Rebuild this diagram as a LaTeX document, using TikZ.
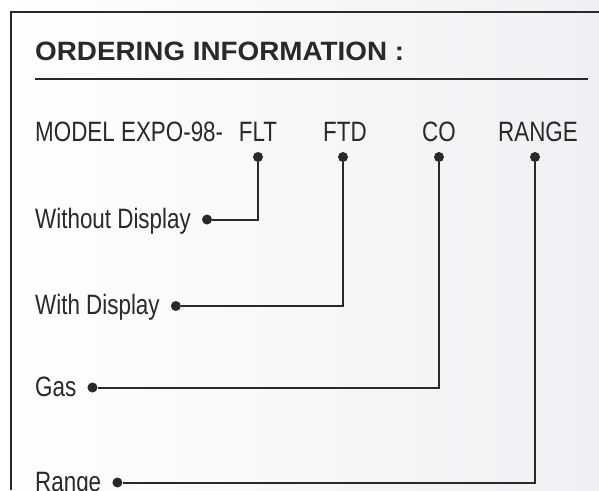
\documentclass[tikz,border=0pt]{standalone}
\usepackage{fontspec}
\setmainfont{Liberation Sans}
\newfontfamily\headfont{Liberation Sans}[FakeStretch=1.05]
\newfontfamily\itemfont{Liberation Sans}[FakeStretch=0.8]
\usetikzlibrary{positioning}
\definecolor{ink}{RGB}{43,40,38}
\definecolor{paper}{RGB}{240,240,244}

\begin{document}
\begin{tikzpicture}[x=1pt,y=-1pt,
  heading/.style={
    font=\headfont\bfseries\fontsize{26.5}{30}\selectfont,
    text=ink,
    inner sep=0pt,
    anchor=base west
  },
  opttext/.style={
    font=\itemfont\fontsize{28}{32}\selectfont,
    text=ink,
    inner sep=0pt,
    anchor=base west
  },
  codetext/.style={opttext, anchor=base},
  bullet/.style={circle, fill=ink, inner sep=0pt, minimum size=10pt},
  wire/.style={draw=ink, line width=2pt}]
  % background and frame
  \useasboundingbox (0,0) rectangle (599,490);
  \shade[left color=white, right color=paper] (0,0) rectangle (599,490);
  \draw[ink, line width=2pt] (11,490) -- (11,11.5) -- (599,11.5);
  % heading
  \node[heading] (title) at (35,60) {ORDERING INFORMATION :};
  \draw[ink, line width=1.3pt] (35,79) -- (588,79);
  % model code row
  \node[opttext] (model) at (35,141.5) {MODEL EXPO-98-};
  \node[codetext] (flt) at (258,141.5) {FLT};
  \node[codetext] (ftd) at (345,141.5) {FTD};
  \node[codetext] (co) at (439,141.5) {CO};
  \node[codetext] (range) at (538,141.5) {RANGE};
  \foreach \c/\x in {flt/258, ftd/343, co/439, range/535}
    \node[bullet] (\c-dot) at (\x,157) {};
  % options
  \node[opttext] (nodisp) at (35,228) {Without Display};
  \node[opttext] (disp) at (35,314.5) {With Display};
  \node[opttext] (gas) at (35,396) {Gas};
  \node[opttext] (rng) at (35,491) {Range};
  \foreach \n in {nodisp, disp, gas, rng}
    \node[bullet] (\n-dot) at ([xshift=16pt, yshift=8.5pt]\n.base east) {};
  % connectors
  \draw[wire] (flt-dot) |- (nodisp-dot);
  \draw[wire] (ftd-dot) |- (disp-dot);
  \draw[wire] (co-dot) |- (gas-dot);
  \draw[wire] (range-dot) |- (rng-dot);
\end{tikzpicture}
\end{document}
